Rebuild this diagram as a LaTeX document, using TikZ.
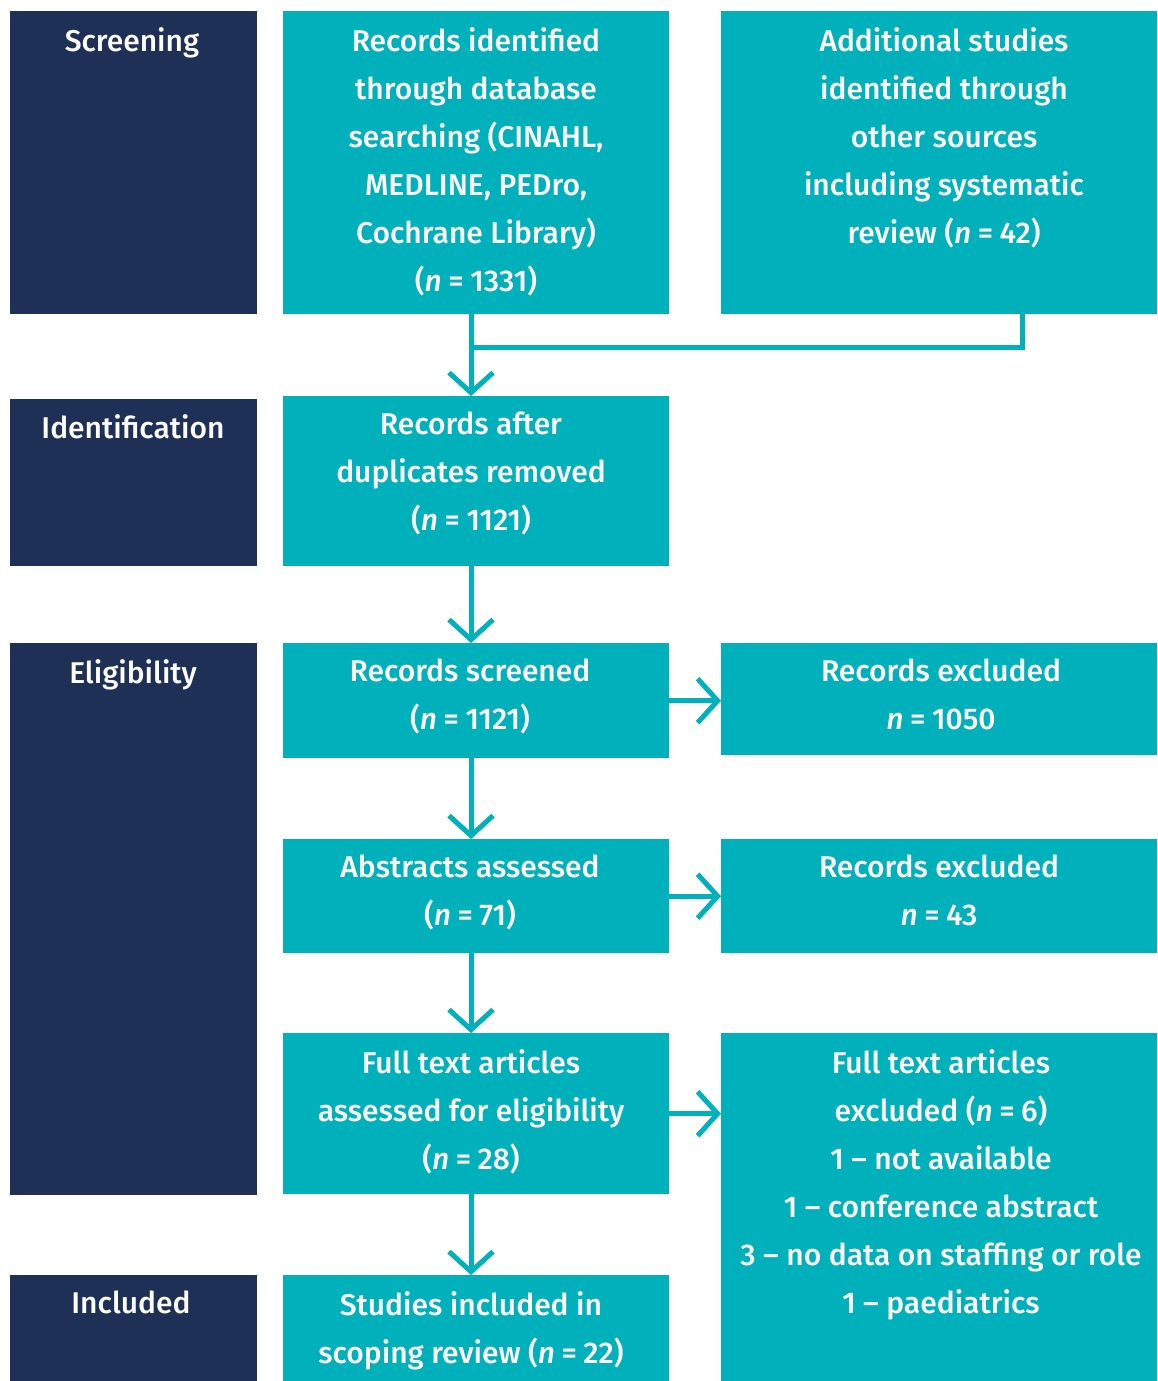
\documentclass[tikz,border=0pt]{standalone}
\usepackage{fontspec}
\setmainfont{Fira Sans}[UprightFont={* Medium}, ItalicFont={* Medium Italic}]
\usetikzlibrary{arrows.meta}
\definecolor{teal}{HTML}{00B0BA}
\definecolor{navy}{HTML}{1F3056}
\newcommand{\nn}{\textit{n}\hspace{0.22em}=\hspace{0.22em}}
\tikzset{
  box/.style={fill=teal, draw=none, inner sep=0pt, anchor=north west},
  side/.style={fill=navy, draw=none, inner sep=0pt, anchor=north west},
  txt/.style={anchor=north, align=center, text=white, inner sep=0pt,
    font=\fontsize{30}{48}\selectfont},
  conn/.style={draw=teal, line width=5pt},
  arr/.style={conn, -{Straight Barb[length=20pt,width=44pt,line width=5pt]}},
}
\begin{document}
\begin{tikzpicture}[x=1pt,y=-1pt]
\useasboundingbox (0,0) rectangle (1157,1381);
% side labels
\node[side, minimum width=247pt, minimum height=303pt] (s1) at (10,11) {};
\node[side, minimum width=247pt, minimum height=167pt] (s2) at (10,399) {};
\node[side, minimum width=247pt, minimum height=552pt] (s3) at (10,643) {};
\node[side, minimum width=247pt, minimum height=106pt] (s4) at (10,1275) {};
\node[txt] (t1) at (132,27) {Screening};
\node[txt] (t2) at (133,414) {Identification};
\node[txt] (t3) at (133,659) {Eligibility};
\node[txt] (t4) at (131,1291) {Included};
% middle column
\node[box, minimum width=386pt, minimum height=303pt] (b1) at (283,11) {};
\node[box, minimum width=386pt, minimum height=170pt] (b2) at (283,396) {};
\node[box, minimum width=386pt, minimum height=115pt] (b3) at (283,643) {};
\node[box, minimum width=386pt, minimum height=114pt] (b4) at (283,839) {};
\node[box, minimum width=386pt, minimum height=161pt] (b5) at (283,1033) {};
\node[box, minimum width=386pt, minimum height=106pt] (b6) at (283,1275) {};
% right column
\node[box, minimum width=436pt, minimum height=303pt] (r1) at (721,11) {};
\node[box, minimum width=436pt, minimum height=112pt] (r3) at (721,643) {};
\node[box, minimum width=436pt, minimum height=114pt] (r4) at (721,839) {};
\node[box, minimum width=436pt, minimum height=348pt] (r5) at (721,1033) {};
% texts
\node[txt] (tb1) at (476,27) {Records identified\\through database\\searching (CINAHL,\\MEDLINE, PEDro,\\Cochrane Library)\\(\nn1331)};
\node[txt] (tr1) at (944,27) {Additional studies\\identified through\\other sources\\including systematic\\review (\nn42)};
\node[txt] (tb2) at (471,412) {Records after\\duplicates removed\\(\nn1121)};
\node[txt] (tb3) at (470,659) {Records screened\\(\nn1121)};
\node[txt] (tr3) at (941,659) {Records excluded\\\nn1050};
\node[txt] (tb4) at (470,855) {Abstracts assessed\\(\nn71)};
\node[txt] (tr4) at (939,855) {Records excluded\\\nn43};
\node[txt] (tb5) at (471,1049) {Full text articles\\assessed for eligibility\\(\nn28)};
\node[txt] (tr5) at (941,1049) {Full text articles\\excluded (\nn6)\\1 – not available\\1 – conference abstract\\3 – no data on staffing or role\\1 – paediatrics};
\node[txt] (tb6) at (471,1291) {Studies included in\\scoping review (\nn22)};
% connectors
\coordinate (j) at (471,347);
\draw[conn] (r1.south -| 1022,0) |- (j);
\draw[arr] (b1.south -| j) -- (b2.north -| j);
\draw[arr] (b2.south -| j) -- (b3.north -| j);
\draw[arr] (b3.south -| j) -- (b4.north -| j);
\draw[arr] (b4.south -| j) -- (b5.north -| j);
\draw[arr] (b5.south -| j) -- (b6.north -| j);
\draw[arr] (b3.east) -- (b3.east -| r3.west);
\draw[arr] (b4.east) -- (b4.east -| r4.west);
\draw[arr] (b5.east) -- (b5.east -| r5.west);
\end{tikzpicture}
\end{document}
